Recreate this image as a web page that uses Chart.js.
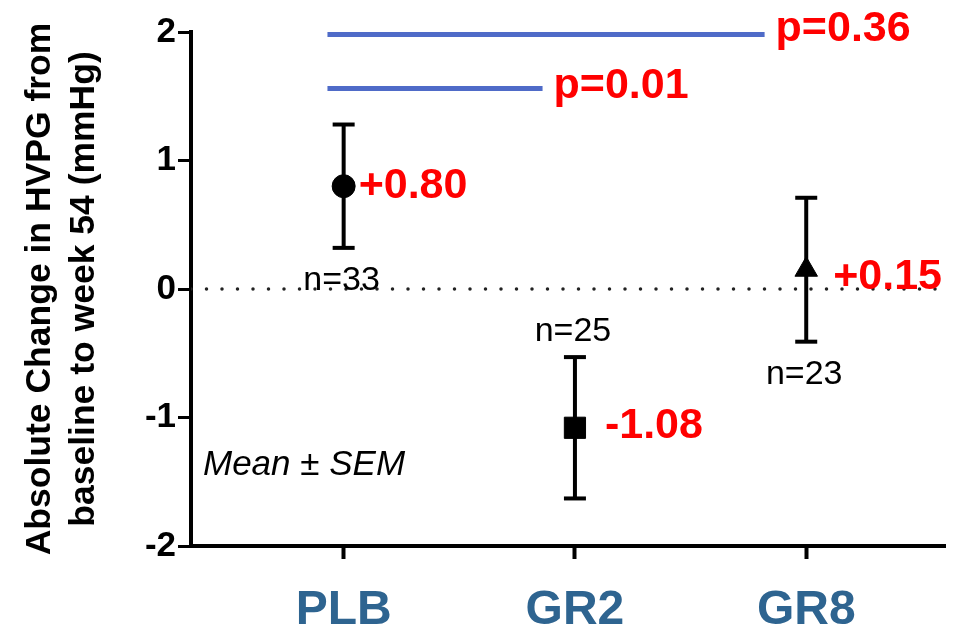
<!DOCTYPE html>
<html>
<head>
<meta charset="utf-8">
<title>HVPG change to week 54</title>
<script src="https://cdn.jsdelivr.net/npm/chart.js@4.4.1/dist/chart.umd.min.js"></script>
<style>
  html, body { margin: 0; padding: 0; overflow: hidden; background: #fff; }
  #hvpgChart { display: block; }
</style>
</head>
<body>
<canvas id="hvpgChart" width="961" height="628"></canvas>
<script>
'use strict';

// ***** DATA *****
const groups = ['PLB', 'GR2', 'GR8'];
const means = [0.80, -1.08, 0.15];
const sems = [0.48, 0.55, 0.56];
const counts = [33, 25, 23];
const yTicks = [-2, -1, 0, 1, 2];

// comparison lines against placebo (height, span in group units, p value)
const compLevels = [1.98, 1.56];
const compStart = [-0.07, -0.07];
const compEnd = [1.82, 0.86];
const compP = ['0.36', '0.01'];

// ***** STYLE *****
const FONT = '"Liberation Sans", Arial, sans-serif';
const markerStyles = ['circle', 'rect', 'triangle'];
const markerSizes = [11.5, 15, 13];

// value labels sit to the right of each marker, n labels above/below the bars
const valueDx = [15, 30, 27];
const valueDy = [0, -2, 7];
const pDy = [-5, -2];
const nBelow = [true, false, true];

function fmtMean(m) {
  return (m > 0 ? '+' : '') + m.toFixed(2);
}

// ***** DATASETS *****
let datasets = [];

// dotted zero line
datasets.push({
  data: [{ x: -0.66, y: 0 }, { x: 2.58, y: 0 }],
  showLine: true,
  borderColor: '#222',
  borderWidth: 3.5,
  borderDash: [0, 15.5],
  borderCapStyle: 'round',
  pointRadius: 0,
  order: 5
});

// blue comparison lines
for (let k = 0; k < compLevels.length; k++) {
  datasets.push({
    data: [{ x: compStart[k], y: compLevels[k] }, { x: compEnd[k], y: compLevels[k] }],
    showLine: true,
    borderColor: '#4f6bc8',
    borderWidth: 5,
    borderCapStyle: 'butt',
    pointRadius: 0,
    order: 4
  });
}

// error bars: mean +/- SEM with flat caps
for (let i = 0; i < groups.length; i++) {
  datasets.push({
    data: [{ x: i, y: means[i] - sems[i] }, { x: i, y: means[i] + sems[i] }],
    showLine: true,
    borderColor: '#000',
    borderWidth: 4,
    pointStyle: 'line',
    pointRadius: 11,
    pointBorderWidth: 4,
    pointBorderColor: '#000',
    order: 2
  });
}

// group means
datasets.push({
  data: means.map((m, i) => ({ x: i, y: m })),
  pointStyle: markerStyles,
  pointRadius: markerSizes,
  backgroundColor: '#000',
  borderColor: '#000',
  borderWidth: 1,
  order: 0
});

// ***** TEXT LABELS *****
const labelPlugin = {
  id: 'groupLabels',
  afterDatasetsDraw(chart) {
    const { ctx, chartArea } = chart;
    const x = chart.scales.x;
    const y = chart.scales.y;
    ctx.save();

    // mean values in red
    ctx.fillStyle = '#ff0000';
    ctx.font = 'bold 43px ' + FONT;
    ctx.textAlign = 'left';
    ctx.textBaseline = 'middle';
    for (let i = 0; i < groups.length; i++) {
      ctx.fillText(fmtMean(means[i]), x.getPixelForValue(i) + valueDx[i], y.getPixelForValue(means[i]) + valueDy[i]);
    }

    // p values at the end of each comparison line
    for (let k = 0; k < compLevels.length; k++) {
      ctx.fillText('p=' + compP[k], x.getPixelForValue(compEnd[k]) + 11, y.getPixelForValue(compLevels[k]) + pDy[k]);
    }

    // sample sizes
    ctx.fillStyle = '#000';
    ctx.font = '34px ' + FONT;
    ctx.textAlign = 'center';
    ctx.textBaseline = 'alphabetic';
    for (let i = 0; i < groups.length; i++) {
      let yy = nBelow[i]
        ? y.getPixelForValue(means[i] - sems[i]) + 42
        : y.getPixelForValue(means[i] + sems[i]) - 16;
      ctx.fillText('n=' + counts[i], x.getPixelForValue(i) - 2, yy);
    }

    ctx.font = 'italic 35px ' + FONT;
    ctx.textAlign = 'left';
    ctx.fillText('Mean \u00b1 SEM', chartArea.left + 12, chartArea.bottom - 71);

    ctx.restore();
  }
};

// ***** CHART *****
const ctx = document.getElementById('hvpgChart').getContext('2d');

const hvpgChart = new Chart(ctx, { // eslint-disable-line
  type: 'scatter',
  data: { datasets: datasets },
  plugins: [labelPlugin],
  options: {
    responsive: false,
    animation: false,
    events: [],
    layout: { padding: { top: 32, right: 9, left: 0, bottom: 0 } },
    plugins: {
      legend: { display: false },
      tooltip: { enabled: false }
    },
    scales: {
      x: {
        type: 'linear',
        min: -0.66,
        max: 2.6,
        afterBuildTicks: axis => { axis.ticks = groups.map((g, i) => ({ value: i })); },
        afterFit: axis => {
          axis.height = 82;
          axis.paddingLeft = 0;
          axis.paddingRight = 0;
        },
        grid: { drawOnChartArea: false, drawTicks: true, tickLength: 13, tickWidth: 4, tickColor: '#000' },
        border: { display: true, color: '#000', width: 4 },
        ticks: {
          callback: v => groups[v],
          font: { family: FONT, size: 48, weight: 'bold' },
          color: '#2e6490',
          padding: 23,
          autoSkip: false,
          maxRotation: 0
        }
      },
      y: {
        type: 'linear',
        min: -2,
        max: 2,
        afterBuildTicks: axis => { axis.ticks = yTicks.map(v => ({ value: v })); },
        afterFit: axis => { axis.width = 191; },
        grid: { drawOnChartArea: false, drawTicks: true, tickLength: 13, tickWidth: 3, tickColor: '#000' },
        border: { display: true, color: '#000', width: 4 },
        ticks: {
          font: { family: FONT, size: 35, weight: 'bold' },
          color: '#000',
          padding: 2
        },
        title: {
          display: true,
          text: ['Absolute Change in HVPG from', 'baseline to week 54 (mmHg)'],
          font: { family: FONT, size: 35.5, weight: 'bold', lineHeight: 1.24 },
          color: '#000',
          padding: { top: 18, bottom: 0 }
        }
      }
    }
  }
});
</script>
</body>
</html>
